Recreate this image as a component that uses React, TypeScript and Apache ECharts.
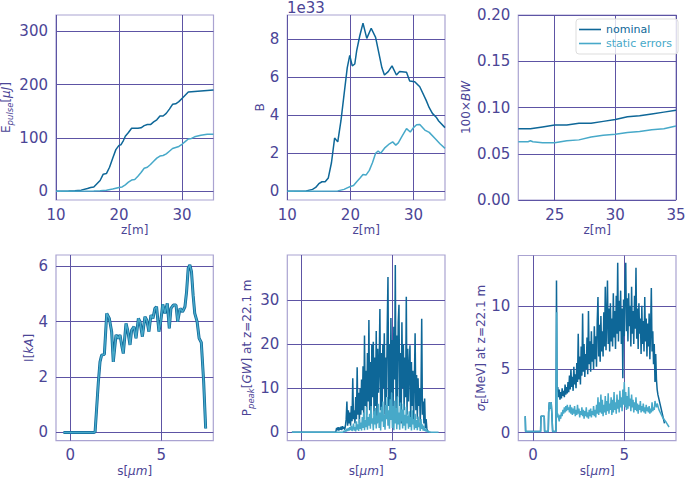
import React, { useEffect, useRef } from "react";
import * as echarts from "echarts";

const DARK = "#0e6798";
const LIGHT = "#47a9c9";
const AX = "#4b4596";
const GRIDC = "#5d54a4";
const FRAME = "#aaa3d1";
const FONT = "DejaVu Sans";

// ---- Panel 1: pulse energy vs z ----
const E_Z_NOM = [10,12,13,14,15,15.5,16,16.5,17,17.5,18,18.5,19,19.5,20,20.3,20.7,21,21.5,22,23,23.5,24,24.5,25,25.5,26,26.5,27,27.5,28,28.5,29,29.5,30,30.5,31,32,33,34,35];
const E_NOM = [0,0.5,1,2,5,7,8,14,20,32,33,45,62,78,86,87,95,103,110,118,118,119,123,125,125,130,134,141,141,146,154,163,164,168,174,180,186,187,188,189,190];
const E_Z_ERR = [10,16,17,18,19,20,20.5,21,21.5,22,22.5,23,23.5,24,24.5,25,25.5,26,26.5,27,27.5,28,28.5,29,29.5,30,30.5,31,31.5,32,33,34,35];
const E_ERR = [0,0.5,1,2,4,7,8,12,17,21,22,28,35,43,45,50,56,62,66,67,70,75,80,82,84,88,93,98,99,102,105,107,107];

// ---- Panel 2: brightness (x1e33) vs z ----
const B_Z_NOM = [10,13,14,14.5,15,15.5,16,16.5,17,17.5,18,18.5,19,19.5,19.9,20.3,20.7,21,21.5,22,22.6,23.3,24,24.5,25,25.4,26,26.6,27.3,27.8,28.9,29.4,30.2,31,32,32.5,33,33.6,34,35];
const B_NOM = [0,0.02,0.1,0.2,0.4,0.5,0.5,0.7,1.5,2.8,2.6,3.7,5.1,6.5,7.15,6.6,6.7,7.4,8.2,8.85,8.05,8.58,8.1,7.3,6.5,6.12,6.3,6.6,6.12,6.3,6.26,5.8,5.77,5.5,4.8,4.4,4.1,3.9,3.7,3.35];
const B_Z_ERR = [10,18,19,19.5,20,20.5,21,21.5,22,22.5,23,23.5,24,24.4,24.8,25.5,26.2,26.7,27.2,27.6,28.2,28.9,29.5,30,30.5,31,31.8,32.5,33.5,34.2,35];
const B_ERR = [0,0.02,0.1,0.18,0.25,0.3,0.5,0.68,0.88,0.86,1.1,1.5,2.0,2.12,2.0,2.3,2.5,2.6,2.43,2.55,2.9,3.3,3.12,3.35,3.5,3.52,3.22,3.1,2.75,2.5,2.26];

// ---- Panel 3: bandwidth vs z ----
const BW_Z_NOM = [22,23,24,25,26,27,28,29,30,31,32,33,34,35];
const BW_NOM = [0.077,0.077,0.079,0.081,0.081,0.083,0.083,0.085,0.087,0.090,0.091,0.093,0.095,0.097];
const BW_Z_ERR = [22,22.8,23,23.2,24,25,26,27,28,29,30,31,32,33,34,35];
const BW_ERR = [0.063,0.063,0.064,0.063,0.062,0.062,0.064,0.065,0.068,0.070,0.071,0.073,0.074,0.076,0.077,0.080];

// ---- Panel 4: current profile ----
const I_S = [-0.38,1.30,1.36,1.54,1.63,1.72,1.87,2.0,2.14,2.27,2.36,2.51,2.64,2.73,2.82,2.91,3.06,3.15,3.28,3.37,3.5,3.61,3.74,3.83,3.96,4.1,4.2,4.32,4.43,4.54,4.65,4.74,4.87,4.98,5.08,5.2,5.33,5.44,5.53,5.66,5.81,5.9,6.03,6.17,6.3,6.39,6.48,6.57,6.66,6.75,6.84,6.97,7.08,7.2,7.33,7.44];
const I_KA = [0,0,0.02,1.83,2.55,2.79,2.82,4.3,4.12,3.64,2.55,3.52,3.4,3.52,3.16,2.85,3.94,3.7,3.16,3.7,3.82,3.4,4.12,4.0,3.46,4.18,4.06,3.64,4.24,4.12,4.48,4.54,3.64,4.06,4.63,4.3,4.66,3.76,4.48,4.6,4.6,4.0,4.48,4.36,4.54,5.08,5.93,6.05,5.81,4.96,4.3,4.0,3.4,3.25,1.83,0.14];

// ---- Panel 5: peak power at z=22.1 m (slice grid start/step in s) ----
const P_NOM_S0 = 1.90, P_NOM_DS = 0.04;
const P_NOM = [0.2,1.0,0.5,1.2,0.4,1.1,0.6,1.3,0.5,1.4,0.8,1.2,0.6,1.5,
  3,7.0,1.5,5,2,4.5,1.5,6,2.5,12.3,
  3,5,2,8,3,14.8,4,9,2,10,
  4,12,5,15,3,22,6,14,4,18,
  7,25.5,5,16,3,20,8,20.6,4,17,
  6,23,2,19,9,15,28,5,18,3,
  20,10,22.5,4,17,8,24,35.3,6,20,
  3,26,9,21,5,24,12,38,4,22,
  8,25,29,6,18,2,25,10,20,5,
  17,8,30.8,4,19,7,15,19.8,3,16,
  6,14,2,12,22.5,5,13,3,12.3,6,
  10,2,9,25.8,4,7,2,7.7,1,3,
  0.9,0.3,0.1,0];
const P_NOM_PRE_S = [-0.5,1.86];
const P_NOM_PRE_V = [0,0];
const P_ERR_S0 = 2.30, P_ERR_DS = 0.04;
const P_ERR = [0.1,0.3,0.1,0.5,0.2,0.8,0.3,1.0,0.4,1.2,
  0.5,1.5,0.3,0.9,2.0,0.4,1.2,0.2,2.5,0.6,
  1.8,0.3,3.0,0.8,2.2,0.4,3.5,1.0,4.5,0.5,
  2.8,1.2,5.8,0.6,3.5,1.5,4.2,0.8,6.0,2.0,
  3.2,0.5,4.8,1.8,5.5,0.9,3.8,2.2,6.5,1.0,
  4.5,0.4,5.8,2.5,7.0,1.2,4.0,0.6,6.2,3.0,
  8.0,1.5,5.0,0.8,7.5,2.8,9.0,1.0,6.0,0.5,
  7.2,2.0,5.5,0.7,8.2,1.8,4.5,0.6,6.8,2.5,
  5.2,0.9,6.5,1.5,4.0,0.5,5.8,2.0,3.8,0.8,
  4.8,1.2,3.5,0.4,5.0,1.8,3.0,0.6,4.2,1.0,
  2.8,0.5,3.6,1.2,2.2,0.3,3.0,0.8,1.8,0.4,
  1.5,0.3,0.9,0.2,0.6,0.1,0.3,0.1,0.1];
const P_ERR_PRE_S = [-0.5,2.26];
const P_ERR_PRE_V = [0,0];
const P_ERR_POST_S = [7.1,7.5];
const P_ERR_POST_V = [0,0];

// ---- Panel 6: energy spread at z=22.1 m ----
const SIG_NOM_PRE_S = [-0.42,-0.40,0.42,0.44,0.62,0.64,0.84,0.86,0.90,0.95,1.00,1.04,1.08,1.26,1.29,1.32];
const SIG_NOM_PRE_V = [1.3,0.1,0.1,1.3,1.3,0.1,0.1,1.6,2.4,1.9,2.4,1.4,0.1,0.1,12.0,3.2];
const SIG_NOM_S0 = 1.36, SIG_NOM_DS = 0.04;
const SIG_NOM = [3.6,2.8,3.4,2.6,3.2,2.7,3.5,2.9,3.3,2.8,
  3.8,3.0,3.6,3.1,4.0,3.2,4.5,3.4,5.0,3.6,
  4.4,3.3,5.2,3.8,4.6,3.5,5.5,4.0,7.8,4.2,
  6.0,3.8,6.8,4.5,9.4,4.8,7.0,4.4,6.2,5.0,
  7.5,4.6,9.6,5.4,7.2,4.8,8.0,5.6,7.0,5.0,
  8.4,5.8,7.6,5.2,8.8,10.7,6.0,8.5,5.6,9.2,
  6.4,8.0,6.0,9.5,6.8,11.5,6.5,9.0,12.0,7.0,
  9.8,6.4,10.2,7.2,9.0,6.8,11.0,7.5,9.6,6.6,
  10.8,7.8,13.4,7.2,10.4,8.0,11.2,7.0,9.8,4.3,
  10.5,7.6,11.8,13.4,8.0,10.6,7.2,11.0,8.4,10.0,
  6.8,11.5,7.8,9.6,7.0,10.8,8.2,13.0,7.4,9.8,
  6.6,10.2,7.8,9.0,6.2,10.0,7.0,8.8,6.4,10.7,
  7.2,9.0,6.0,8.6,6.8,9.4,5.8,8.2,11.4,6.4,
  8.0,5.4,7.0,4.0,6.2,4.2,3.4];
const SIG_NOM_POST_S = [6.84,7.0,7.2];
const SIG_NOM_POST_V = [3.0,2.0,0.74];
const SIG_ERR_PRE_S = [-0.42,-0.40,0.42,0.44,0.62,0.64,0.84,0.86,0.90,0.95,1.00,1.04,1.08,1.26,1.30,1.33];
const SIG_ERR_PRE_V = [1.3,0.1,0.1,1.3,1.3,0.1,0.1,1.6,2.4,1.9,2.4,1.4,0.1,0.1,9.5,1.2];
const SIG_ERR_S0 = 1.36, SIG_ERR_DS = 0.04;
const SIG_ERR = [1.5,1.2,0.9,1.4,1.1,1.6,1.3,1.8,1.5,2.0,
  1.6,2.1,1.7,2.2,1.8,2.0,1.6,2.2,1.5,2.0,
  1.4,1.9,1.5,2.1,1.3,1.8,1.4,2.2,1.5,1.9,
  1.2,1.7,1.4,2.0,1.3,1.8,1.1,1.7,1.3,2.0,
  1.2,1.6,1.1,1.8,1.3,1.9,1.2,1.7,1.4,2.1,
  1.3,1.8,1.2,2.2,1.5,2.8,1.4,2.4,1.6,3.0,
  1.5,2.6,1.3,2.2,1.6,2.9,1.4,2.5,1.7,3.1,
  1.5,2.3,1.8,2.8,1.4,2.6,1.6,3.2,1.8,2.4,
  1.5,3.0,1.9,2.6,1.6,3.3,2.0,2.8,1.7,3.4,
  2.2,4.0,2.0,3.2,1.8,2.9,1.9,3.6,2.1,2.7,
  1.7,3.0,2.0,2.6,1.6,2.4,1.8,2.8,1.7,2.3,
  1.5,2.2,1.8,2.5,1.6,2.1,1.7,2.3,1.6,2.0,
  1.5,2.2,1.7,2.0,1.6,2.1,1.5,1.9,1.6,2.4,
  1.7,2.0,1.8,2.5,2.2,2.0,2.3];
const SIG_ERR_POST_S = [6.9,7.1,7.3,7.45];
const SIG_ERR_POST_V = [1.8,1.2,0.8,0.45];

// ---- tick values ----
const X_TICKS_TOP12 = [10, 20, 30];
const X_TICKS_TOP3 = [25, 30, 35];
const Y_TICKS_E = [0, 100, 200, 300];
const Y_TICKS_B = [0, 2, 4, 6, 8];
const Y_TICKS_BW = [0, 0.05, 0.1, 0.15, 0.2];
const X_TICKS_S = [0, 5];
const Y_TICKS_I = [0, 2, 4, 6];
const Y_TICKS_P = [0, 10, 20, 30];
const Y_TICKS_SIG = [0, 5, 10];

const pairs = (xs: number[], ys: number[]) => xs.map((x, i) => [x, ys[i]]);
const sliced = (s0: number, ds: number, vs: number[]) => vs.map((v, i) => [+(s0 + ds * i).toFixed(4), v]);

const RICH = {
  sub: { fontSize: 8.5, fontStyle: "italic", color: AX, fontFamily: FONT, padding: [7, 0, 0, 0] },
  subu: { fontSize: 8.5, color: AX, fontFamily: FONT, padding: [7, 0, 0, 0] },
  i: { fontSize: 12, fontStyle: "italic", color: AX, fontFamily: FONT },
};

function xAx(gi: number, min: number, max: number, ticks: number[], name: string) {
  return {
    type: "value", gridIndex: gi, min, max, name, nameLocation: "middle", nameGap: 24,
    nameMoveOverlap: false,
    nameTextStyle: { color: AX, fontSize: 12, fontFamily: FONT, rich: RICH },
    axisLine: { show: false }, axisTick: { show: false, customValues: ticks },
    axisLabel: { customValues: ticks, color: AX, fontSize: 15, fontFamily: FONT, margin: 7 },
    splitLine: { show: true, lineStyle: { color: GRIDC, width: 1 } },
  };
}
function yAx(gi: number, min: number, max: number, ticks: number[], name: string, gap: number, fmt?: (v: number) => string) {
  return {
    type: "value", gridIndex: gi, min, max, name, nameLocation: "middle", nameGap: gap,
    nameMoveOverlap: false,
    nameTextStyle: { color: AX, fontSize: 12, fontFamily: FONT, rich: RICH },
    axisLine: { show: false }, axisTick: { show: false, customValues: ticks },
    axisLabel: { customValues: ticks, color: AX, fontSize: 15, fontFamily: FONT, margin: 8, formatter: fmt },
    splitLine: { show: true, lineStyle: { color: GRIDC, width: 1 } },
  };
}
function ln(name: string, gi: number, data: number[][], color: string, width = 1.5) {
  return {
    type: "line", name, xAxisIndex: gi, yAxisIndex: gi, data, symbol: "none", showSymbol: false,
    lineStyle: { color, width }, itemStyle: { color }, silent: true, z: name === "nominal" ? 2 : 3,
  };
}

export default function App() {
  const ref = useRef<HTMLDivElement>(null);
  useEffect(() => {
    document.body.style.margin = "0";
    const chart = echarts.init(ref.current!, null, { renderer: "svg" });
    const g = (left: number, top: number, width: number, height: number) => ({
      left, top, width, height, show: true, borderColor: FRAME, borderWidth: 1.2,
      backgroundColor: "#ffffff", containLabel: false, outerBoundsMode: "none",
    });
    chart.setOption({
      animation: false,
      backgroundColor: "#ffffff",
      textStyle: { fontFamily: FONT },
      grid: [
        g(56, 15, 157.5, 185),
        g(287.3, 15, 157.7, 185),
        g(518.3, 15, 157.7, 185),
        g(56, 255, 157.3, 185.7),
        g(287.3, 255, 157.7, 185.7),
        g(518.3, 255.5, 157.7, 185.2),
      ],
      xAxis: [
        xAx(0, 10, 35, X_TICKS_TOP12, "z[m]"),
        xAx(1, 10, 35, X_TICKS_TOP12, "z[m]"),
        xAx(2, 22, 35, X_TICKS_TOP3, "z[m]"),
        xAx(3, -0.79, 7.86, X_TICKS_S, "s[{i|μm}]"),
        xAx(4, -0.75, 7.85, X_TICKS_S, "s[{i|μm}]"),
        xAx(5, -0.8, 7.83, X_TICKS_S, "s[{i|μm}]"),
      ],
      yAxis: [
        yAx(0, -16.5, 330.5, Y_TICKS_E, "E{sub|pulse}[{i|μJ}]", 42),
        yAx(1, -0.46, 9.28, Y_TICKS_B, "B", 21),
        yAx(2, 0, 0.2, Y_TICKS_BW, "100×{i|BW}", 46, (v: number) => v.toFixed(2)),
        yAx(3, -0.3, 6.41, Y_TICKS_I, "I[{i|kA}]", 21),
        yAx(4, -1.9, 40.3, Y_TICKS_P, "P{sub|peak}[{i|GW}] at z=22.1 m", 32),
        yAx(5, -0.63, 13.97, Y_TICKS_SIG, "{i|σ}{subu|E}[MeV] at z=22.1 m", 29),
      ],
      legend: {
        left: 576, top: 19, orient: "vertical", icon: "rect", itemWidth: 22, itemHeight: 1.6, itemGap: 3,
        padding: [5, 6, 5, 3], backgroundColor: "rgba(255,255,255,0.8)",
        borderColor: "#dddddd", borderWidth: 1, borderRadius: 3,
        textStyle: { fontSize: 11, fontFamily: FONT },
        data: [
          { name: "nominal", textStyle: { color: DARK } },
          { name: "static errors", textStyle: { color: LIGHT } },
        ],
      },
      graphic: [
        { type: "text", left: 287, top: 0, style: { text: "1e33", fill: AX, font: `15px '${FONT}'` } },
      ],
      series: [
        ln("nominal", 0, pairs(E_Z_NOM, E_NOM), DARK),
        ln("static errors", 0, pairs(E_Z_ERR, E_ERR), LIGHT),
        ln("nominal", 1, pairs(B_Z_NOM, B_NOM), DARK),
        ln("static errors", 1, pairs(B_Z_ERR, B_ERR), LIGHT),
        ln("nominal", 2, pairs(BW_Z_NOM, BW_NOM), DARK),
        ln("static errors", 2, pairs(BW_Z_ERR, BW_ERR), LIGHT),
        ln("nominal", 3, pairs(I_S, I_KA), DARK, 3),
        ln("static errors", 3, pairs(I_S, I_KA), LIGHT, 1.5),
        ln("nominal", 4, [...pairs(P_NOM_PRE_S, P_NOM_PRE_V), ...sliced(P_NOM_S0, P_NOM_DS, P_NOM)], DARK),
        ln("static errors", 4, [...pairs(P_ERR_PRE_S, P_ERR_PRE_V), ...sliced(P_ERR_S0, P_ERR_DS, P_ERR), ...pairs(P_ERR_POST_S, P_ERR_POST_V)], LIGHT),
        ln("nominal", 5, [...pairs(SIG_NOM_PRE_S, SIG_NOM_PRE_V), ...sliced(SIG_NOM_S0, SIG_NOM_DS, SIG_NOM), ...pairs(SIG_NOM_POST_S, SIG_NOM_POST_V)], DARK),
        ln("static errors", 5, [...pairs(SIG_ERR_PRE_S, SIG_ERR_PRE_V), ...sliced(SIG_ERR_S0, SIG_ERR_DS, SIG_ERR), ...pairs(SIG_ERR_POST_S, SIG_ERR_POST_V)], LIGHT),
      ],
    });
    return () => chart.dispose();
  }, []);
  return <div ref={ref} style={{ width: 685, height: 481 }} />;
}
